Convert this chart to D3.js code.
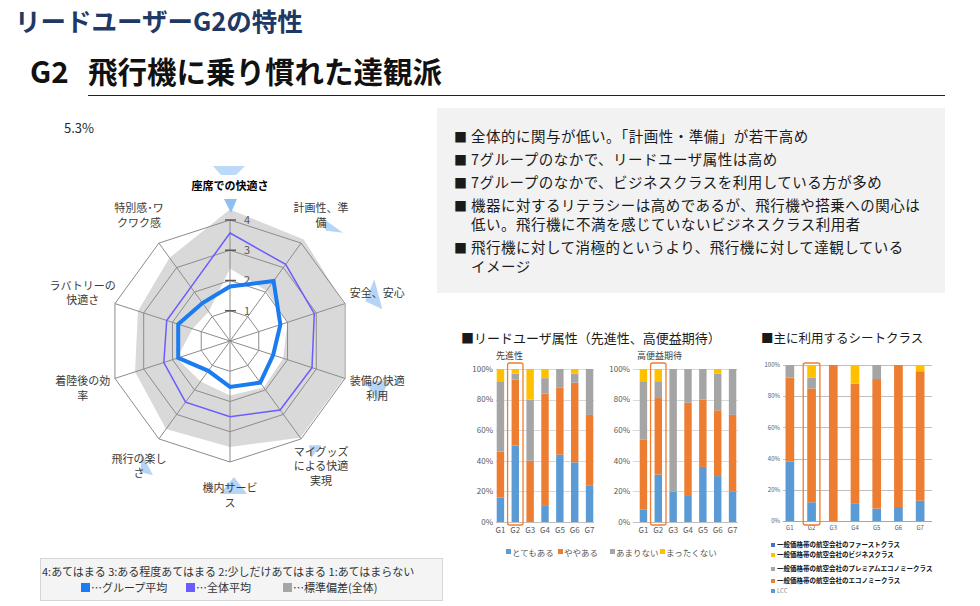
<!DOCTYPE html>
<html>
<head>
<meta charset="utf-8">
<script src="https://cdn.jsdelivr.net/npm/d3@7"></script>
<style>
  body { margin: 0; background: #fff; }
  svg { font-family: "Noto Sans CJK JP", "Noto Sans", sans-serif; display: block; }
</style>
</head>
<body>
<div id="chart"></div>
<script>
// radar: 10 axes, clockwise from the top
const radarAxes = ["座席での快適さ", "計画性、準備", "安全、安心", "装備の快適利用", "マイグッズによる快適実現",
  "機内サービス", "飛行の楽しさ", "着陸後の効率", "ラバトリーの快適さ", "特別感・ワクワク感"];
const radarLabelLines = [["座席での快適さ"], ["計画性、準", "備"], ["安全、安心"], ["装備の快適", "利用"],
  ["マイグッズ", "による快適", "実現"], ["機内サービ", "ス"], ["飛行の楽し", "さ"], ["着陸後の効", "率"],
  ["ラバトリーの", "快適さ"], ["特別感･ワ", "クワク感"]];
const groupAvg = [1.8, 2.45, 1.75, 1.5, 1.7, 1.52, 1.22, 1.8, 1.8, 1.55];
const allAvg = [3.57, 3.13, 2.93, 2.85, 2.82, 2.5, 2.5, 2.3, 2.2, 2.2];
const sdHigh = [4.35, 4.15, 3.97, 3.97, 3.95, 3.5, 3.6, 3.3, 3.2, 3.4];
const sdLow = [2.4, 2.05, 2.0, 1.85, 1.9, 1.8, 1.65, 1.85, 1.3, 1.2];
const radarTicks = [1, 2, 3, 4];
const markedAxes = [1, 2, 3, 4, 5, 6];

const bullets = [
  ["全体的に関与が低い。「計画性・準備」が若干高め"],
  ["7グループのなかで、リードユーザ属性は高め"],
  ["7グループのなかで、ビジネスクラスを利用している方が多め"],
  ["機器に対するリテラシーは高めであるが、飛行機や搭乗への関心は", "低い。飛行機に不満を感じていないビジネスクラス利用者"],
  ["飛行機に対して消極的というより、飛行機に対して達観している", "イメージ"]
];

const groups = ["G1", "G2", "G3", "G4", "G5", "G6", "G7"];
const answerKeys = ["とてもある", "ややある", "あまりない", "まったくない"];
// 先進性 (%)
const advVery = [16, 50, 0, 11, 44, 39, 24];
const advSome = [30, 43, 40, 73, 44, 52, 46];
const advLittle = [46, 4, 40, 10, 12, 6, 30];
const advNone = [8, 3, 20, 6, 0, 3, 0];
// 高便益期待 (%)
const benVery = [8, 31, 20, 17, 36, 30, 20];
const benSome = [46, 50, 0, 61, 44, 43, 50];
const benLittle = [38, 11, 80, 22, 20, 24, 30];
const benNone = [8, 8, 0, 0, 0, 3, 0];
// シートクラス (%), stacked bottom-up
const seatKeys = ["LCC", "一般価格帯の航空会社のエコノミークラス", "一般価格帯の航空会社のプレミアムエコノミークラス",
  "一般価格帯の航空会社のビジネスクラス", "一般価格帯の航空会社のファーストクラス"];
const seatLcc = [38, 12, 0, 11, 8, 9, 13];
const seatEco = [54, 73, 100, 77, 83, 91, 83];
const seatPrem = [8, 7, 0, 0, 9, 0, 0];
const seatBiz = [0, 8, 0, 12, 0, 0, 4];
const seatFirst = [0, 0, 0, 0, 0, 0, 0];
const seatLegendOrder = [4, 3, 2, 1, 0];

const answerColors = ["#5b9bd5", "#ed7d31", "#a5a5a5", "#ffc000"];
const seatColors = ["#5b9bd5", "#ed7d31", "#a5a5a5", "#ffc000", "#4472c4"];

const svg = d3.select("#chart").append("svg").attr("width", 980).attr("height", 606);

function drawHeader(svg) {
  svg.append("text").attr("x", 15).attr("y", 31)
    .attr("font-size", 25.5).attr("font-weight", 700).attr("fill", "#203864")
    .text("リードユーザーG2の特性");
  svg.append("text").attr("x", 30).attr("y", 83)
    .attr("font-size", 29.5).attr("font-weight", 700).attr("fill", "#111")
    .text("G2");
  svg.append("text").attr("x", 88).attr("y", 83)
    .attr("font-size", 29.5).attr("font-weight", 700).attr("fill", "#111")
    .text("飛行機に乗り慣れた達観派");
  svg.append("line").attr("x1", 88).attr("x2", 945).attr("y1", 95.5).attr("y2", 95.5)
    .attr("stroke", "#222").attr("stroke-width", 1);
  svg.append("text").attr("x", 64).attr("y", 133).attr("font-size", 13).attr("fill", "#262626").text("5.3%");
}

function drawRadar(svg) {
  const cx = 230, cy = 341;
  const r = d3.scaleLinear().domain([0, 4]).range([0, 121]);
  const n = radarAxes.length;
  const ang = i => i * 2 * Math.PI / n;
  const pt = (v, i) => [cx + r(v) * Math.sin(ang(i)), cy - r(v) * Math.cos(ang(i))];
  const closed = d3.line().curve(d3.curveLinearClosed);
  const g = svg.append("g");

  // std dev band
  g.append("path")
    .attr("d", closed(sdHigh.map(pt)) + closed(sdLow.map(pt)))
    .attr("fill-rule", "evenodd")
    .attr("fill", "#d9d9d9");

  // grid rings + spokes
  g.append("g").selectAll("path").data(radarTicks).join("path")
    .attr("d", v => closed(radarAxes.map((a, i) => pt(v, i))))
    .attr("fill", "none").attr("stroke", "#8c8c8c").attr("stroke-width", 1);
  g.append("g").selectAll("line").data(radarAxes).join("line")
    .attr("x1", cx).attr("y1", cy)
    .attr("x2", (d, i) => pt(4, i)[0]).attr("y2", (d, i) => pt(4, i)[1])
    .attr("stroke", "#8c8c8c").attr("stroke-width", 1);

  // tick marks on the top axis
  g.append("g").selectAll("line").data(radarTicks).join("line")
    .attr("x1", cx - 5).attr("x2", cx + 6).attr("y1", v => cy - r(v)).attr("y2", v => cy - r(v))
    .attr("stroke", "#595959").attr("stroke-width", 1.5);
  g.append("g").selectAll("text").data(radarTicks).join("text")
    .attr("x", cx + 17).attr("y", v => cy - r(v)).attr("dy", "0.35em")
    .attr("text-anchor", "middle").attr("font-size", 11).attr("fill", "#595959")
    .text(v => v);

  // overall average / group average
  g.append("path").attr("d", closed(allAvg.map(pt)))
    .attr("fill", "none").attr("stroke", "#6a5cff").attr("stroke-width", 1.5);
  g.append("path").attr("d", closed(groupAvg.map(pt)))
    .attr("fill", "none").attr("stroke", "#1a7cf0").attr("stroke-width", 4).attr("stroke-linejoin", "miter");

  // axis labels
  const labelPos = radarAxes.map((a, i) => pt(5.12, i));
  const tri = "#a9cdf5";
  // light blue markers near some labels
  const markShapes = {
    1: [[-2, 0], [22, 17], [5, 15]],
    2: [[-3, -14], [5, 16], [-12, 8]],
    3: [[-12, -6], [12, -9], [2, 13]],
    4: [[-12, -21], [0, -21], [-10, -8]],
    5: [[4, -19], [-10, -2], [17, -2]],
    6: [[2, -14], [14, 9], [2, 6]]
  };
  markedAxes.forEach(i => {
    const [lx, ly] = labelPos[i];
    g.append("path").attr("d", closed(markShapes[i].map(d => [lx + d[0], ly + d[1]])))
      .attr("fill", tri).attr("opacity", 0.85);
  });
  const [tx, ty] = labelPos[0];
  g.append("path").attr("d", closed([[tx - 17, ty - 20], [tx + 15, ty - 20], [tx + 6, ty - 11], [tx - 9, ty - 11]]))
    .attr("fill", "#bcdaf8");
  g.append("path").attr("d", closed([[tx - 6, ty + 13], [tx + 7, ty + 13], [tx + 1, ty + 27]]))
    .attr("fill", "#8fbff2");

  g.append("g").selectAll("text").data(radarLabelLines).join("text")
    .attr("text-anchor", "middle")
    .attr("font-size", 11)
    .attr("font-weight", (d, i) => i === 0 ? 700 : 400)
    .attr("fill", (d, i) => i === 0 ? "#000" : "#3a3a3a")
    .each(function (lines, i) {
      const [lx, ly] = labelPos[i];
      const top = ly - (lines.length - 1) * 14.5 / 2;
      d3.select(this).selectAll("tspan").data(lines).join("tspan")
        .attr("x", lx).attr("y", (d, j) => top + j * 14.5).attr("dy", "0.35em")
        .text(d => d);
    });
}

function drawRadarLegend(svg) {
  const g = svg.append("g");
  g.append("rect").attr("x", 40.5).attr("y", 558.5).attr("width", 402).attr("height", 42)
    .attr("fill", "#f4f4f4").attr("stroke", "#d6d6d6");
  g.append("text").attr("x", 42).attr("y", 576).attr("font-size", 11).attr("fill", "#333")
    .text("4:あてはまる  3:ある程度あてはまる  2:少しだけあてはまる  1:あてはまらない");
  const items = [["…グループ平均", "#1a7cf0", 81], ["…全体平均", "#6a5cff", 186], ["…標準偏差(全体)", "#a6a6a6", 283]];
  const it = g.selectAll("g.it").data(items).join("g");
  it.append("rect").attr("x", d => d[2]).attr("y", 583).attr("width", 9).attr("height", 9).attr("fill", d => d[1]);
  it.append("text").attr("x", d => d[2] + 10).attr("y", 592).attr("font-size", 11).attr("fill", "#333").text(d => d[0]);
}

function drawBullets(svg) {
  const g = svg.append("g");
  g.append("rect").attr("x", 437).attr("y", 108).attr("width", 508).attr("height", 185).attr("fill", "#f2f2f2");
  let y = 142;
  bullets.forEach(lines => {
    g.append("text").attr("x", 454).attr("y", y).attr("font-size", 13).attr("fill", "#1a1a1a").text("■");
    lines.forEach(line => {
      g.append("text").attr("x", 471).attr("y", y).attr("font-size", 14.5)
        .attr("letter-spacing", 0.5).attr("fill", "#1a1a1a").text(line);
      y += 19;
    });
    y += 4;
  });
}

function drawStacked(svg, opt) {
  const x = d3.scaleBand().domain(groups).range(opt.xRange).paddingInner(opt.pad).paddingOuter(opt.pad / 2);
  const y = d3.scaleLinear().domain([0, 100]).range(opt.yRange);
  const table = groups.map((gname, i) => {
    const row = { group: gname };
    opt.keys.forEach((k, j) => row[k] = opt.series[j][i]);
    return row;
  });
  const stack = d3.stack().keys(opt.keys)(table);
  const g = svg.append("g");

  g.append("g").selectAll("line").data(y.ticks(5)).join("line")
    .attr("x1", opt.gridX[0]).attr("x2", opt.gridX[1])
    .attr("y1", d => Math.round(y(d)) + 0.5).attr("y2", d => Math.round(y(d)) + 0.5)
    .attr("stroke", d => d === 0 ? opt.axisColor : opt.gridColor).attr("stroke-width", 1);
  g.append("g").selectAll("text").data(y.ticks(5)).join("text")
    .attr("x", opt.gridX[0] - 3).attr("y", d => y(d)).attr("dy", "0.35em")
    .attr("text-anchor", "end").attr("font-size", opt.tickSize).attr("fill", "#595959")
    .text(d => d + "%");

  g.append("g").selectAll("g").data(stack).join("g")
    .attr("fill", (d, i) => opt.colors[i])
    .selectAll("rect").data(d => d).join("rect")
      .attr("x", d => x(d.data.group)).attr("width", x.bandwidth())
      .attr("y", d => y(d[1])).attr("height", d => y(d[0]) - y(d[1]));

  g.append("g").selectAll("text").data(groups).join("text")
    .attr("x", d => x(d) + x.bandwidth() / 2).attr("y", opt.yRange[0] + opt.tickSize + 3)
    .attr("text-anchor", "middle").attr("font-size", opt.tickSize).attr("fill", "#595959")
    .text(d => d);

  // G2 highlight
  g.append("rect")
    .attr("x", x("G2") - 4).attr("width", x.bandwidth() + 8)
    .attr("y", y(100) - opt.hlPad[0]).attr("height", y(0) - y(100) + opt.hlPad[0] + opt.hlPad[1])
    .attr("rx", 2).attr("fill", "none").attr("stroke", "#ed7d31").attr("stroke-width", 1.3);

  if (opt.subtitle) {
    g.append("text").attr("x", opt.subX).attr("y", 359).attr("font-size", 9).attr("fill", "#404040").text(opt.subtitle);
  }
}

function drawBarPanels(svg) {
  svg.append("text").attr("x", 461).attr("y", 343).attr("font-size", 13).attr("fill", "#1a1a1a")
    .text("■リードユーザ属性（先進性、高便益期待）");
  svg.append("text").attr("x", 761).attr("y", 343).attr("font-size", 12.5).attr("fill", "#1a1a1a")
    .text("■主に利用するシートクラス");

  const common = { keys: answerKeys, colors: answerColors, pad: 0.5, yRange: [522, 369],
    gridColor: "#d9d9d9", axisColor: "#bfbfbf", tickSize: 8, hlPad: [6, 3] };
  drawStacked(svg, Object.assign({}, common, {
    xRange: [493, 597], gridX: [496, 594], subtitle: "先進性", subX: 496,
    series: [advVery, advSome, advLittle, advNone]
  }));
  drawStacked(svg, Object.assign({}, common, {
    xRange: [636, 740], gridX: [633, 738], subtitle: "高便益期待", subX: 637,
    series: [benVery, benSome, benLittle, benNone]
  }));
  drawStacked(svg, {
    keys: seatKeys, colors: seatColors, pad: 0.6, yRange: [521, 365], xRange: [779, 931], gridX: [783, 932],
    gridColor: "#bfbfbf", axisColor: "#a6a6a6", tickSize: 6, hlPad: [2, 4],
    series: [seatLcc, seatEco, seatPrem, seatBiz, seatFirst]
  });

  // answer legend
  const lg = svg.append("g").selectAll("g").data(answerKeys).join("g")
    .attr("transform", (d, i) => `translate(${[506, 558, 610, 660][i]},553)`);
  lg.append("rect").attr("x", 0).attr("y", -4).attr("width", 5).attr("height", 5).attr("fill", (d, i) => answerColors[i]);
  lg.append("text").attr("x", 6).attr("y", 0).attr("dy", "0.3em").attr("font-size", 8.5).attr("fill", "#595959").text(d => d);

  // seat class legend
  const sy = [545, 555, 569, 581, 591];
  const sg = svg.append("g").selectAll("g").data(seatLegendOrder).join("g")
    .attr("transform", (d, i) => `translate(771,${sy[i]})`);
  sg.append("rect").attr("x", 0).attr("y", -2).attr("width", 4).attr("height", 4).attr("fill", d => seatColors[d]);
  sg.append("text").attr("x", 6).attr("y", 0).attr("dy", "0.35em")
    .attr("font-size", d => seatKeys[d] === "LCC" ? 6 : 6.5)
    .attr("font-weight", d => seatKeys[d] === "LCC" ? 400 : 700)
    .attr("fill", d => seatKeys[d] === "LCC" ? "#8c8c8c" : "#111")
    .text(d => seatKeys[d]);
}

drawHeader(svg);
drawRadar(svg);
drawRadarLegend(svg);
drawBullets(svg);
drawBarPanels(svg);
</script>
</body>
</html>
